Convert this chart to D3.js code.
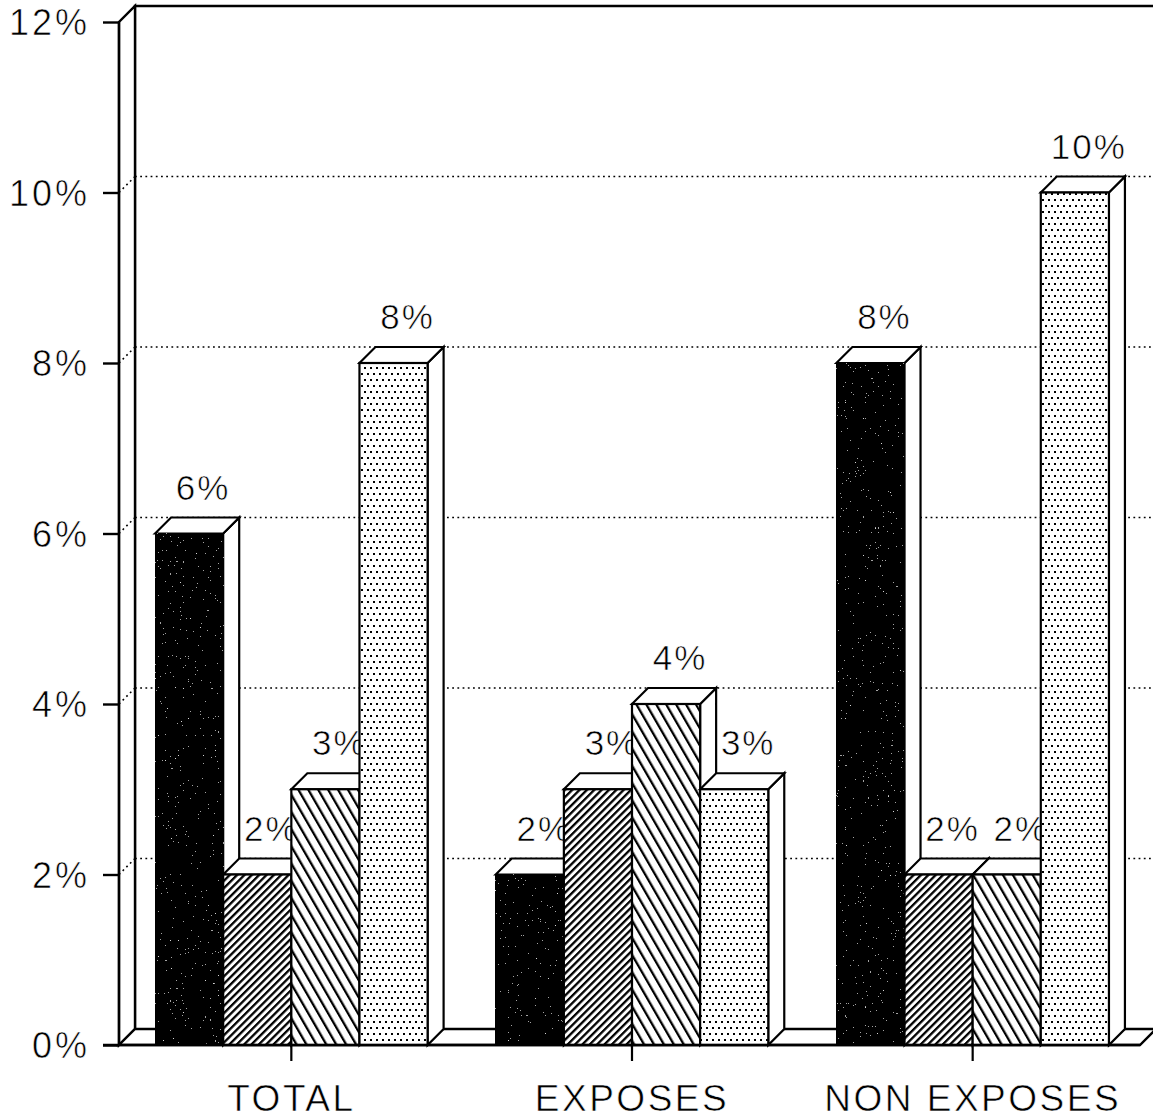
<!DOCTYPE html>
<html>
<head>
<meta charset="utf-8">
<script src="https://cdn.jsdelivr.net/npm/d3@7"></script>
<style>
  html, body { margin: 0; padding: 0; background: #fff; }
  svg { display: block; }
  text.lbl {
    font-family: "Liberation Sans", Arial, sans-serif; fill: #000;
    stroke: #fff; stroke-width: 0.6px; paint-order: fill stroke;
  }
</style>
</head>
<body>
<svg id="chart" width="1153" height="1118"></svg>
<script>
// Rate per group, one array per series (percent)
const categories = ["TOTAL", "EXPOSES", "NON EXPOSES"];
const seriesKeys = ["s1", "s2", "s3", "s4"];
const seriesSolid   = [6, 2, 8];
const seriesSlash   = [2, 3, 2];
const seriesBack    = [3, 4, 2];
const seriesDotted  = [8, 3, 10];
const yTickValues = [0, 2, 4, 6, 8, 10, 12];
const yTickLabels = ["0%", "2%", "4%", "6%", "8%", "10%", "12%"];

const seriesValues = [seriesSolid, seriesSlash, seriesBack, seriesDotted];
const fills = ["url(#solid)", "url(#slash)", "url(#back)", "url(#dots)"];

const svg = d3.select("#chart");
const W = 1153, H = 1118;
const D = 16;               // depth offset of the 3D projection
const axisX = 119;          // front edge of the left wall

const y = d3.scaleLinear().domain([0, 12]).range([1045, 22]);
const x0 = d3.scaleBand().domain(categories).range([121, 1143]);
const x1 = d3.scaleBand().domain(seriesKeys).range([0, x0.bandwidth()])
  .paddingInner(0).paddingOuter(0.5);

// ---- fill patterns ----
const defs = svg.append("defs");

const slash = defs.append("pattern").attr("id", "slash")
  .attr("patternUnits", "userSpaceOnUse").attr("width", 5.2).attr("height", 10)
  .attr("patternTransform", "rotate(45)");
slash.append("rect").attr("width", 5.2).attr("height", 10).attr("fill", "#fff");
slash.append("rect").attr("width", 2.3).attr("height", 10).attr("fill", "#000");

const back = defs.append("pattern").attr("id", "back")
  .attr("patternUnits", "userSpaceOnUse").attr("width", 8.6).attr("height", 10)
  .attr("patternTransform", "rotate(-30)");
back.append("rect").attr("width", 8.6).attr("height", 10).attr("fill", "#fff");
back.append("rect").attr("width", 2.3).attr("height", 10).attr("fill", "#000");

const dots = defs.append("pattern").attr("id", "dots")
  .attr("patternUnits", "userSpaceOnUse").attr("width", 12).attr("height", 12);
dots.append("rect").attr("width", 12).attr("height", 12).attr("fill", "#fff");
[[1, 1], [7, 1], [4, 7], [10, 7]].forEach(([px, py]) => {
  dots.append("rect").attr("x", px).attr("y", py)
    .attr("width", 2).attr("height", 2).attr("fill", "#000");
});

const solid = defs.append("pattern").attr("id", "solid")
  .attr("patternUnits", "userSpaceOnUse").attr("width", 10).attr("height", 10);
solid.append("rect").attr("width", 10).attr("height", 10).attr("fill", "#000");

// light speckle on the solid bars
const grain = defs.append("filter").attr("id", "grain")
  .attr("x", 0).attr("y", 0).attr("width", 1).attr("height", 1);
grain.append("feTurbulence").attr("type", "fractalNoise")
  .attr("baseFrequency", "0.6").attr("numOctaves", 2).attr("seed", 7).attr("result", "noise");
grain.append("feColorMatrix").attr("in", "noise").attr("type", "matrix")
  .attr("values", "0 0 0 0 0.75  0 0 0 0 0.75  0 0 0 0 0.75  1 0 0 0 0").attr("result", "na");
grain.append("feComponentTransfer").attr("in", "na").attr("result", "specks")
  .append("feFuncA").attr("type", "discrete")
  .attr("tableValues", "0 0 0 0 0 0 0 0 0 0.5 0.9 1");
grain.append("feComposite").attr("in", "specks").attr("in2", "SourceAlpha")
  .attr("operator", "in").attr("result", "clipped");
const merge = grain.append("feMerge");
merge.append("feMergeNode").attr("in", "SourceGraphic");
merge.append("feMergeNode").attr("in", "clipped");

// ---- walls and floor ----
const frame = svg.append("g").attr("fill", "#fff").attr("stroke", "#000")
  .attr("stroke-width", 2.4).attr("stroke-linejoin", "miter");

// back wall
frame.append("path")
  .attr("d", `M${axisX + D},${y(0) - D} L${axisX + D},${y(12) - D} L${W + 5},${y(12) - D}`)
  .attr("fill", "none");

// left wall
frame.append("path")
  .attr("d", `M${axisX},${y(0)} L${axisX},${y(12)} L${axisX + D},${y(12) - D} L${axisX + D},${y(0) - D} Z`);

// dotted gridlines on the back wall and the left wall
const grid = svg.append("g").attr("stroke", "#000").attr("stroke-width", 1.6)
  .attr("stroke-dasharray", "1.8,3.4").attr("fill", "none");
yTickValues.filter(v => v > 0 && v < 12).forEach(v => {
  grid.append("line").attr("x1", axisX + D).attr("x2", W)
    .attr("y1", y(v) - D).attr("y2", y(v) - D);
  grid.append("line").attr("x1", axisX).attr("x2", axisX + D)
    .attr("y1", y(v)).attr("y2", y(v) - D);
});

// floor
const floorRight = 1140;
frame.append("path")
  .attr("d", `M${axisX},${y(0)} L${floorRight},${y(0)} L${floorRight + D},${y(0) - D} L${axisX + D},${y(0) - D} Z`);

// ---- bars ----
const bars = svg.append("g").attr("stroke", "#000").attr("stroke-width", 2.2)
  .attr("stroke-linejoin", "miter");

categories.forEach((cat, ci) => {
  seriesKeys.forEach((key, si) => {
    const v = seriesValues[si][ci];
    const xa = x0(cat) + x1(key);
    const xb = xa + x1.bandwidth();
    const yv = y(v), yb = y(0);
    const g = bars.append("g");
    // right side face
    g.append("path").attr("fill", "#fff")
      .attr("d", `M${xb},${yv} L${xb + D},${yv - D} L${xb + D},${yb - D} L${xb},${yb} Z`);
    // top face
    g.append("path").attr("fill", "#fff")
      .attr("d", `M${xa},${yv} L${xa + D},${yv - D} L${xb + D},${yv - D} L${xb},${yv} Z`);
    // front face
    g.append("rect").attr("x", xa).attr("y", yv)
      .attr("width", xb - xa).attr("height", yb - yv)
      .attr("fill", fills[si])
      .attr("filter", si === 0 ? "url(#grain)" : null);
    // value label, drawn before the next bar so a taller neighbour can overlap it
    g.append("text").attr("class", "lbl")
      .attr("x", (xa + xb) / 2 + 14).attr("y", yv - 34)
      .attr("text-anchor", "middle").attr("font-size", 35)
      .attr("letter-spacing", "2px")
      .text(v + "%");
  });
});

// ---- axes ----
const yAxis = d3.axisLeft(y).tickValues(yTickValues)
  .tickFormat((d, i) => yTickLabels[i]).tickSize(16).tickSizeOuter(0).tickPadding(13);
const gy = svg.append("g").attr("transform", `translate(${axisX},0)`).call(yAxis);
gy.select(".domain").remove();
gy.selectAll(".tick line").attr("stroke", "#000").attr("stroke-width", 2.4);
gy.selectAll(".tick text").attr("class", "lbl").attr("font-size", 36).attr("dy", "0.36em")
  .attr("letter-spacing", "3px");

// floor front edge extends out to the 0% tick
svg.append("line").attr("x1", axisX - 16).attr("x2", floorRight)
  .attr("y1", y(0)).attr("y2", y(0)).attr("stroke", "#000").attr("stroke-width", 2.4);
svg.append("line").attr("x1", axisX).attr("x2", axisX)
  .attr("y1", y(0)).attr("y2", y(12)).attr("stroke", "#000").attr("stroke-width", 2.4);

const xAxis = d3.axisBottom(x0).tickSize(16).tickSizeOuter(0).tickPadding(24);
const gx = svg.append("g").attr("transform", `translate(0,${y(0)})`).call(xAxis);
gx.select(".domain").remove();
gx.selectAll(".tick line").attr("stroke", "#000").attr("stroke-width", 2.2);
gx.selectAll(".tick text").attr("class", "lbl").attr("font-size", 37)
  .attr("letter-spacing", "2.5px");
</script>
</body>
</html>
